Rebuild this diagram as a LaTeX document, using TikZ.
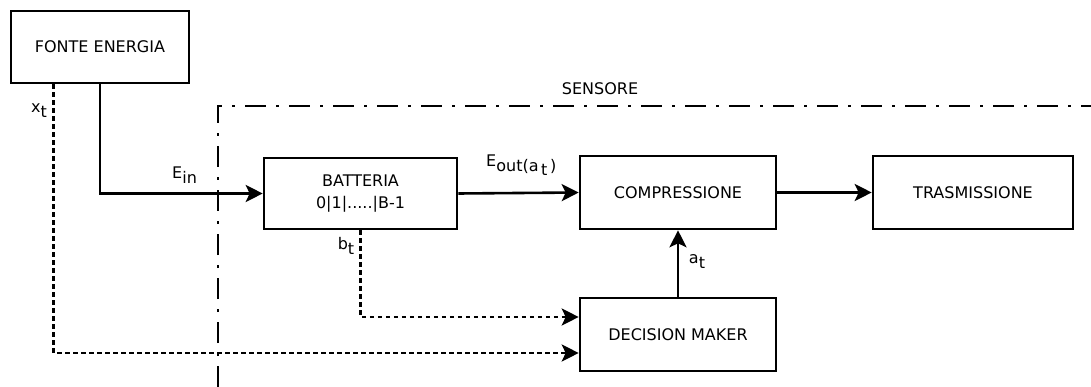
\documentclass[tikz,border=0pt]{standalone}
\usepackage{fontspec}
\setmainfont{DejaVu Sans}
\usetikzlibrary{arrows.meta,calc}
\begin{document}
\begin{tikzpicture}[x=1pt,y=-1pt,
  font=\fontsize{16}{22}\selectfont,
  block/.style={draw,line width=2.6pt,minimum width=#1,inner sep=0pt,align=center},
  flow/.style={line width=2.6pt,-{Stealth[length=17pt,width=17pt,inset=4pt]}},
  signal/.style={flow,dash pattern=on 4.5pt off 3.5pt},
  boundary/.style={line width=1.2pt,dash pattern=on 21pt off 10pt on 3pt off 10pt},
  lbl/.style={inner sep=0pt}]
\useasboundingbox (0,0) rectangle (1091,387);

% blocks
\node[block=178pt,minimum height=72pt] (src) at (100,47) {FONTE ENERGIA};
\node[block=193pt,minimum height=71pt] (batt) at (360.5,193.5) {BATTERIA\\0|1|.....|B-1};
\node[block=196pt,minimum height=73pt] (comp) at (678,192.5) {COMPRESSIONE};
\node[block=200pt,minimum height=73pt] (tx) at (973,192.5) {TRASMISSIONE};
\node[block=196pt,minimum height=73pt] (dm) at (678,334.5) {DECISION MAKER};

% sensor boundary
\coordinate (sb) at (218,387);
\coordinate (sc) at (218,106);
\coordinate (se) at (1091,106);
\draw[boundary] (sb) -- (sc) -- (se);
\node[lbl] (sens) at (600,89) {SENSORE};

% energy and data flow
\draw[flow] (src.south) |- (batt.west);
\draw[flow] (batt.east) -- (comp.west);
\draw[flow] (comp.east) -- (tx.west);
\draw[flow] (dm.north) -- (comp.south);
\draw[signal] (batt.south) |- ([yshift=17.5pt]dm.west);
\draw[signal] ([xshift=44pt]src.south west) |- ([yshift=-18.5pt]dm.west);

% labels
\node[lbl,anchor=south west] (ein) at (172,184) {E\raisebox{-5pt}{in}};
\node[lbl,anchor=south west] (eout) at (486,176) {E\raisebox{-5pt}{out(a\raisebox{-4pt}{\,t\,})}};
\node[lbl] (at) at (697,262) {a\raisebox{-5pt}{t}};
\node[lbl] (bt) at (346,246) {b\raisebox{-5pt}{t}};
\node[lbl] (xt) at (39,111) {x\raisebox{-5pt}{t}};
\end{tikzpicture}
\end{document}
